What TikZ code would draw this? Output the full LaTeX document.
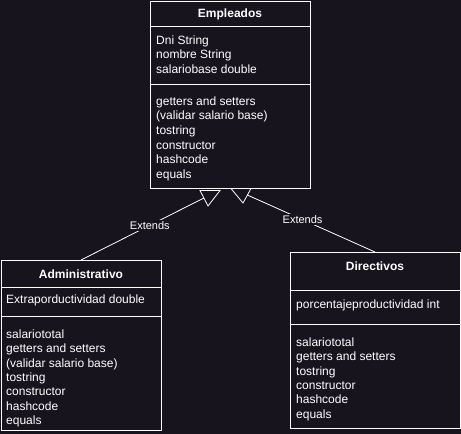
\documentclass[tikz,border=0pt]{standalone}
\usepackage{fontspec}
\setmainfont{Liberation Sans}
\definecolor{bg}{HTML}{18141D}
\begin{document}
\begin{tikzpicture}[x=1pt,y=-1pt,
  umlbox/.style={draw=white, line width=1pt, fill=bg, anchor=north west, inner sep=0pt, outer sep=0pt},
  sep/.style={draw=white, line width=1pt},
  txt/.style={anchor=base west, inner sep=0pt, text=white, font=\fontsize{12}{14}\selectfont},
  ttl/.style={anchor=base, inner sep=0pt, text=white, font=\fontsize{12}{14}\selectfont\bfseries},
  conn/.style={draw=white, line width=0.8pt},
  lbl/.style={fill=bg, text=white, inner sep=1.5pt, font=\fontsize{11}{13}\selectfont},
  tri/.style={draw=white, line width=0.8pt, fill=bg, line join=miter}]
\fill[bg] (0,0) rectangle (461,434);
\useasboundingbox (0,0) rectangle (461,434);

% Empleados
\node[umlbox, minimum width=160pt, minimum height=187pt] (emp) at (150,1) {};
\draw[sep] (emp.north west) ++(0,25) -- ++(160,0);
\draw[sep] (emp.north west) ++(0,83) -- ++(160,0);
\node[ttl] (empt) at (230,17.5) {Empleados};
\foreach \t [count=\i] in {Dni String, nombre String, salariobase double}
  \node[txt] (ea\i) at (156,{44.3+14.6*(\i-1)}) {\t};
\foreach \t [count=\i] in {getters and setters, (validar salario base), tostring, constructor, hashcode, equals}
  \node[txt] (em\i) at (156,{105.3+14.6*(\i-1)}) {\t};

% Administrativo
\node[umlbox, minimum width=160pt, minimum height=170pt] (adm) at (1,260) {};
\draw[sep] (adm.north west) ++(0,27) -- ++(160,0);
\draw[sep] (adm.north west) ++(0,56) -- ++(160,0);
\node[ttl] (admt) at (81,278.5) {Administrativo};
\node[txt] (aa1) at (6,303.3) {Extraporductividad double};
\foreach \t [count=\i] in {salariototal, getters and setters, (validar salario base), tostring, constructor, hashcode, equals}
  \node[txt] (am\i) at (6,{338.3+14.4*(\i-1)}) {\t};

% Directivos
\node[umlbox, minimum width=170pt, minimum height=176pt] (dir) at (290,252) {};
\draw[sep] (dir.north west) ++(0,38) -- ++(170,0);
\draw[sep] (dir.north west) ++(0,72) -- ++(170,0);
\node[ttl] (dirt) at (375,270.5) {Directivos};
\node[txt] (da1) at (296,308.3) {porcentajeproductividad int};
\foreach \t [count=\i] in {salariototal, getters and setters, tostring, constructor, hashcode, equals}
  \node[txt] (dm\i) at (296,{346.3+14.4*(\i-1)}) {\t};

% inheritance arrows
\draw[tri] (200,190.5) -- (220,190.5) -- (208,206) -- cycle;
\draw[tri] (231,188.5) -- (251,188.5) -- (243,203) -- cycle;
\coordinate (tl) at (203.9,198);
\coordinate (tr) at (247.3,195);
\draw[conn] (adm.north) -- (tl) node[lbl, pos=0.56] (l1) {Extends};
\draw[conn] (dir.north) -- (tr) node[lbl, pos=0.567] (l2) {Extends};
\end{tikzpicture}
\end{document}
